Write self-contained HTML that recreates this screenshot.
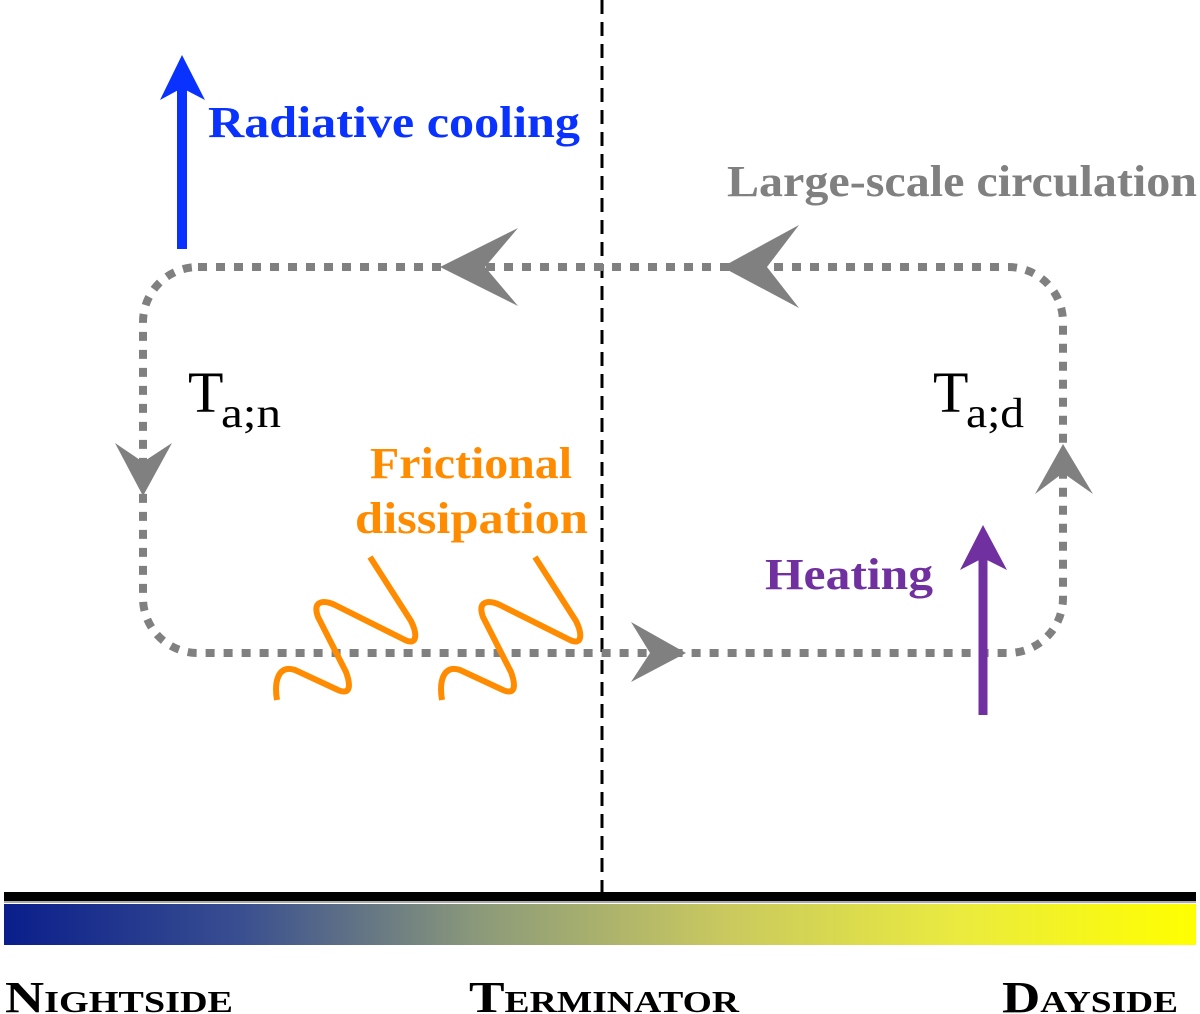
<!DOCTYPE html>
<html><head><meta charset="utf-8"><style>
html,body{margin:0;padding:0;background:#fff;}
svg{display:block;}
text{font-family:"Liberation Serif",serif;}
</style></head><body>
<svg width="1200" height="1014" viewBox="0 0 1200 1014" xmlns="http://www.w3.org/2000/svg">
<defs>
<linearGradient id="g" x1="0" x2="1" y1="0" y2="0">
<stop offset="0" stop-color="#0a1e8c"/>
<stop offset="0.2" stop-color="#3a4f90"/>
<stop offset="0.4" stop-color="#8c9a7a"/>
<stop offset="0.6" stop-color="#c8c860"/>
<stop offset="0.8" stop-color="#eaea40"/>
<stop offset="1" stop-color="#ffff00"/>
</linearGradient>
</defs>
<line x1="602" y1="0" x2="602" y2="895" stroke="#000" stroke-width="3" stroke-dasharray="14,8"/>
<rect x="143" y="267" width="920" height="386" rx="55" ry="55" fill="none" stroke="#808080" stroke-width="8" stroke-dasharray="9,9"/>
<g fill="#808080">
<polygon points="440,267 518,228 485,267 518,306"/>
<polygon points="722,267 799,225 767,267 799,308"/>
<polygon points="143,496 115,443 143,462 172,443"/>
<polygon points="1063,444 1035,494 1063,473 1093,494"/>
<polygon points="686,653 631,622 650,653 631,682"/>
</g>
<line x1="182" y1="249" x2="182" y2="80" stroke="#0a32ff" stroke-width="10"/>
<polygon points="182,55 205,100 182,88 160,100" fill="#0a32ff"/>
<line x1="983" y1="715" x2="983" y2="550" stroke="#7030a0" stroke-width="9"/>
<polygon points="983,525 1007,570 983,558 960,570" fill="#7030a0"/>
<g fill="none" stroke="#ff8c00" stroke-width="6" stroke-linecap="butt" stroke-linejoin="round">
<path d="M277,700 C274,682 278,664 295,670 L338,690 C352,696 350,683 346,672 L318,617 C312,600 324,600 335,605 L405,640 C418,646 417,633 411,621 L370,557"/>
<path d="M442,700 C439,682 443,664 460,670 L503,690 C517,696 515,683 511,672 L483,617 C477,600 489,600 500,605 L570,640 C583,646 582,633 576,621 L535,557"/>
</g>
<text x="208" y="137" font-size="44" font-weight="bold" fill="#0a32ff" textLength="372" lengthAdjust="spacingAndGlyphs">Radiative cooling</text>
<text x="727" y="196" font-size="44" font-weight="bold" fill="#808080" textLength="470" lengthAdjust="spacingAndGlyphs">Large-scale circulation</text>
<text x="370" y="478" font-size="44" font-weight="bold" fill="#ff8c00" textLength="202" lengthAdjust="spacingAndGlyphs">Frictional</text>
<text x="355" y="533" font-size="44" font-weight="bold" fill="#ff8c00" textLength="233" lengthAdjust="spacingAndGlyphs">dissipation</text>
<text x="765" y="589" font-size="44" font-weight="bold" fill="#7030a0" textLength="168" lengthAdjust="spacingAndGlyphs">Heating</text>
<text x="188" y="412" font-size="58" fill="#000">T</text>
<text x="221" y="427" font-size="42" fill="#000" textLength="60" lengthAdjust="spacingAndGlyphs">a;n</text>
<text x="933" y="412" font-size="58" fill="#000">T</text>
<text x="966" y="427" font-size="42" fill="#000" textLength="58" lengthAdjust="spacingAndGlyphs">a;d</text>
<rect x="4" y="892" width="1192" height="9" fill="#000"/>
<rect x="4" y="901" width="1192" height="2" fill="#aaa"/>
<rect x="4" y="904" width="1192" height="41" fill="url(#g)"/>
<g font-weight="bold" fill="#000" font-size="44" style="font-variant:small-caps">
<text x="5" y="1012" textLength="228" lengthAdjust="spacingAndGlyphs">Nightside</text>
<text x="469" y="1012" textLength="270" lengthAdjust="spacingAndGlyphs">Terminator</text>
<text x="1002" y="1012" textLength="176" lengthAdjust="spacingAndGlyphs">Dayside</text>
</g>
</svg>
</body></html>
